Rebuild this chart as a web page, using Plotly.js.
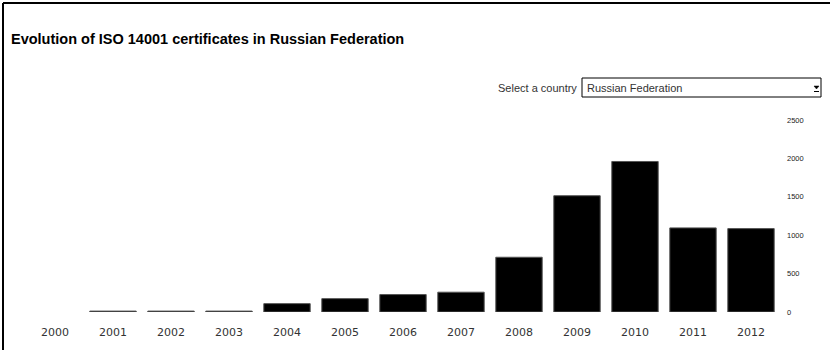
<!DOCTYPE html>
<html>
<head>
<meta charset="utf-8">
<script src="https://cdn.plot.ly/plotly-3.0.1.min.js"></script>
<style>
  html, body { margin: 0; padding: 0; background: #fff; }
  #chart { width: 830px; height: 350px; }
</style>
</head>
<body>
<div id="chart"></div>
<script>
// ---- data ----
const years = ["2000","2001","2002","2003","2004","2005","2006","2007","2008","2009","2010","2011","2012"];
const certificates = [null, 12, 12, 12, 109, 174, 227, 258, 713, 1514, 1960, 1095, 1086];
const yTicks = [0, 500, 1000, 1500, 2000, 2500];
const chartTitle = "Evolution of ISO 14001 certificates in Russian Federation";
const selectLabel = "Select a country";
const selectedCountry = "Russian Federation";

// ---- layout helpers (pixel -> paper) ----
const W = 830, H = 350;
const M = {l: 26, r: 50, t: 120, b: 38};
const PW = W - M.l - M.r, PH = H - M.t - M.b;
const px = x => (x - M.l) / PW;
const py = y => (H - M.b - y) / PH;

const trace = {
  type: 'bar',
  x: years,
  y: certificates,
  marker: {color: '#000000', line: {color: '#555555', width: 1}},
  hoverinfo: 'x+y'
};

const shapes = [
  // page border (top & left)
  {type: 'line', xref: 'paper', yref: 'paper', x0: px(3), x1: px(840), y0: py(3), y1: py(3), line: {color: '#000', width: 2}},
  {type: 'line', xref: 'paper', yref: 'paper', x0: px(3), x1: px(3), y0: py(3), y1: py(360), line: {color: '#000', width: 2}},
  // select box
  {type: 'rect', xref: 'paper', yref: 'paper', x0: px(582), x1: px(821), y0: py(97), y1: py(78), line: {color: '#000', width: 1}, fillcolor: '#fff'},
  // dropdown arrow
  {type: 'path', xref: 'paper', yref: 'paper',
   path: `M ${px(814)} ${py(86)} L ${px(819)} ${py(86)} L ${px(816.5)} ${py(89)} Z`,
   fillcolor: '#000', line: {color: '#000', width: 0.5}},
  {type: 'line', xref: 'paper', yref: 'paper', x0: px(814), x1: px(819), y0: py(91.5), y1: py(91.5), line: {color: '#000', width: 1}}
];

const annotations = [
  {xref: 'paper', yref: 'paper', x: px(579), y: py(87.5), xanchor: 'right', yanchor: 'middle',
   text: selectLabel, showarrow: false, font: {family: 'Arial, Liberation Sans', size: 11, color: '#333'}},
  {xref: 'paper', yref: 'paper', x: px(585), y: py(87.5), xanchor: 'left', yanchor: 'middle',
   text: selectedCountry, showarrow: false, font: {family: 'Arial, Liberation Sans', size: 11, color: '#333'}}
];

const layout = {
  width: W, height: H,
  margin: M,
  paper_bgcolor: '#fff', plot_bgcolor: '#fff',
  showlegend: false,
  bargap: 0.2,
  title: {
    text: chartTitle,
    xref: 'container', yref: 'container',
    x: 11 / W, xanchor: 'left',
    y: 1 - 39 / H, yanchor: 'middle',
    font: {family: 'Arial, Liberation Sans', size: 14.5, weight: 'bold', color: '#000'}
  },
  xaxis: {
    type: 'category',
    tickfont: {family: 'DejaVu Sans', size: 11, color: '#333'},
    showgrid: false, zeroline: false, showline: false, ticks: '',
    ticklabelstandoff: 12,
    fixedrange: true
  },
  yaxis: {
    side: 'right',
    range: [0, 2500],
    tickvals: yTicks,
    tickfont: {family: 'Liberation Sans Narrow, Arial Narrow, Arial', size: 7.5, color: '#222'},
    showgrid: false, zeroline: false, showline: false, ticks: '',
    ticklabelstandoff: 6,
    fixedrange: true
  },
  shapes: shapes,
  annotations: annotations
};

Plotly.newPlot('chart', [trace], layout, {displayModeBar: false, staticPlot: true});
</script>
</body>
</html>
